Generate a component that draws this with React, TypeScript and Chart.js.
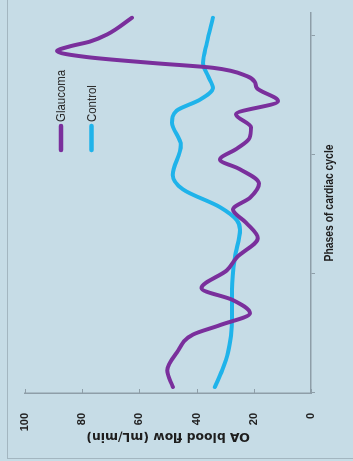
import React, { useEffect, useRef } from 'react';
import { Chart, registerables } from 'chart.js';

Chart.register(...registerables);

// Phases of cardiac cycle (arbitrary units along the x axis) and OA blood flow (mL/min)
const glaucomaPhase = [0.05, 0.19, 0.34, 0.49, 0.57, 0.67, 0.78, 0.88, 1.03, 1.14, 1.3, 1.43, 1.54, 1.64, 1.76, 1.88, 1.96, 2.05, 2.14, 2.23, 2.34, 2.45, 2.56, 2.61, 2.66, 2.73, 2.77, 2.82, 2.87, 2.91, 2.95, 3.01, 3.15];
const glaucomaFlow = [48.3, 50.3, 46.9, 41.3, 31.8, 21.3, 27.3, 38.3, 29.4, 25.9, 18.6, 22.7, 27.3, 21.3, 18.2, 25, 31.8, 26, 21.5, 21, 26.2, 11.5, 18.9, 19.6, 22.4, 34.3, 55.2, 78.3, 88.8, 84.3, 77.3, 71.3, 62.6];

const controlPhase = [0.05, 0.19, 0.34, 0.48, 0.63, 0.87, 1.14, 1.37, 1.45, 1.56, 1.71, 1.83, 2.08, 2.27, 2.37, 2.46, 2.56, 2.66, 2.77, 2.94, 3.15];
const controlFlow = [33.6, 31.1, 29.0, 28.0, 27.6, 27.6, 26.6, 24.8, 25.9, 31.8, 44.8, 48.3, 45.5, 48.6, 47, 39, 34.3, 36.0, 37.8, 36.4, 34.3];

const flowTicks = [0, 20, 40, 60, 80, 100];
const phaseTicks = [0, 1, 2, 3];

const seriesNames = ['Glaucoma', 'Control'];
const seriesColors = ['#7a2f9c', '#1fb3ea'];
const xTitle = 'Phases of cardiac cycle';
const yTitle = 'OA blood flow (mL/min)';

const AXIS = '#8e9ea8';

const innerTicks = {
  id: 'innerTicks',
  afterDraw(chart: any) {
    const { ctx, chartArea, scales } = chart;
    ctx.save();
    ctx.strokeStyle = AXIS;
    ctx.lineWidth = 1;
    flowTicks.forEach((v) => {
      const y = Math.round(scales.y.getPixelForValue(v)) + 0.5;
      ctx.beginPath();
      ctx.moveTo(chartArea.left, y);
      ctx.lineTo(chartArea.left + 4, y);
      ctx.stroke();
    });
    ctx.restore();
  },
};

// condensed (Calibri-like) texts: x-axis title and the legend
const condensedTexts = {
  id: 'condensedTexts',
  afterDraw(chart: any) {
    const { ctx, chartArea } = chart;
    ctx.save();
    // x-axis title
    ctx.fillStyle = '#1e1e1e';
    ctx.font = "bold 12.5px 'Liberation Sans', Arial, sans-serif";
    ctx.textAlign = 'center';
    ctx.textBaseline = 'middle';
    ctx.save();
    ctx.translate((chartArea.left + chartArea.right) / 2, 330);
    ctx.scale(0.83, 1);
    ctx.fillText(xTitle, 0, 0);
    ctx.restore();
    // legend
    chart.data.datasets.forEach((ds: any, i: number) => {
      const y = 61 + i * 30.5;
      ctx.strokeStyle = ds.borderColor;
      ctx.lineWidth = 4.5;
      ctx.lineCap = 'round';
      ctx.beginPath();
      ctx.moveTo(311, y);
      ctx.lineTo(335, y);
      ctx.stroke();
      ctx.fillStyle = '#2a2a2a';
      ctx.font = "13px 'Liberation Sans', Arial, sans-serif";
      ctx.textAlign = 'left';
      ctx.textBaseline = 'middle';
      ctx.save();
      ctx.translate(339, y + 0.5);
      ctx.scale(0.88, 1);
      ctx.fillText(ds.label, 0, 0);
      ctx.restore();
    });
    ctx.restore();
  },
};

export default function App() {
  const ref = useRef<HTMLCanvasElement | null>(null);

  useEffect(() => {
    if (!ref.current) return;
    const chart = new Chart(ref.current, {
      type: 'line',
      data: {
        datasets: [
          {
            label: seriesNames[0],
            data: glaucomaPhase.map((p, i) => ({ x: p, y: glaucomaFlow[i] })),
            borderColor: seriesColors[0],
            backgroundColor: seriesColors[0],
            borderWidth: 4,
            pointRadius: 0,
            borderCapStyle: 'round',
            borderJoinStyle: 'round',
            cubicInterpolationMode: 'monotone',
          },
          {
            label: seriesNames[1],
            data: controlPhase.map((p, i) => ({ x: p, y: controlFlow[i] })),
            borderColor: seriesColors[1],
            backgroundColor: seriesColors[1],
            borderWidth: 4,
            pointRadius: 0,
            borderCapStyle: 'round',
            borderJoinStyle: 'round',
            cubicInterpolationMode: 'monotone',
          },
        ],
      },
      options: {
        animation: false,
        responsive: false,
        devicePixelRatio: 1,
        layout: { padding: { left: 0, top: 25, right: 13, bottom: 0 } },
        plugins: { legend: { display: false }, tooltip: { enabled: false } },
        scales: {
          x: {
            type: 'linear',
            min: 0,
            max: 3.19,
            afterBuildTicks: (scale: any) => {
              scale.ticks = phaseTicks.map((v) => ({ value: v }));
            },
            afterFit: (scale: any) => {
              scale.height = 42;
            },
            ticks: { display: false },
            grid: { display: true, drawOnChartArea: false, drawTicks: true, tickLength: 4, color: AXIS, lineWidth: 1 },
            border: { display: true, color: AXIS, width: 1.5 },
            title: { display: false },
          },
          y: {
            min: 0,
            max: 100,
            afterBuildTicks: (scale: any) => {
              scale.ticks = flowTicks.map((v) => ({ value: v }));
            },
            afterFit: (scale: any) => {
              scale.width = 68;
            },
            ticks: {
              padding: 12,
              color: '#222',
              font: { family: "'Liberation Sans', Arial, sans-serif", size: 11, weight: 'bold' },
            },
            grid: { display: false },
            border: { display: true, color: AXIS, width: 1.5 },
            title: {
              display: true,
              text: yTitle,
              color: '#1e1e1e',
              font: { family: "'DejaVu Sans', Verdana, sans-serif", size: 12.4, weight: 'bold' },
              padding: { top: 17, bottom: 0 },
            },
          },
        },
      },
      plugins: [innerTicks, condensedTexts],
    } as any);
    return () => chart.destroy();
  }, []);

  return (
    <div
      style={{
        position: 'fixed',
        left: 0,
        top: 0,
        width: 353,
        height: 461,
        overflow: 'hidden',
        background: '#c6dce6',
      }}
    >
      <div
        style={{
          position: 'absolute',
          left: 7,
          top: -10,
          width: 400,
          height: 469,
          border: '1px solid #a3b6c0',
          boxSizing: 'border-box',
        }}
      />
      <div
        style={{
          position: 'absolute',
          left: 0,
          top: 0,
          width: 461,
          height: 353,
          transformOrigin: '0 0',
          transform: 'translateY(461px) rotate(-90deg)',
        }}
      >
        <canvas ref={ref} width={461} height={353} style={{ display: 'block', width: 461, height: 353 }} />
      </div>
    </div>
  );
}
